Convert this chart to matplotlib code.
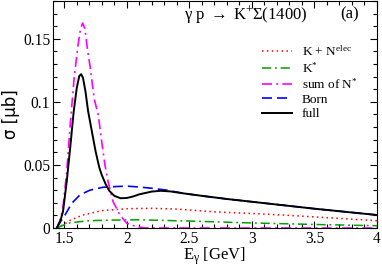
import matplotlib
matplotlib.use("Agg")
import matplotlib.pyplot as plt
from matplotlib.ticker import MultipleLocator

plt.rcParams['font.family'] = ['Liberation Serif', 'DejaVu Serif']
plt.rcParams['mathtext.fontset'] = 'custom'
plt.rcParams['mathtext.rm'] = 'Liberation Serif'
plt.rcParams['mathtext.it'] = 'Liberation Serif:italic'
plt.rcParams['mathtext.bf'] = 'Liberation Serif:bold'

# ---- data ----
E_full = [1.44, 1.47, 1.49, 1.52, 1.55, 1.575, 1.60, 1.62, 1.635, 1.65, 1.67, 1.69,
          1.72, 1.75, 1.78, 1.80, 1.83, 1.86, 1.90, 1.95, 2.00, 2.05, 2.10, 2.20,
          2.27, 2.35, 2.45, 2.60, 2.80, 3.00, 3.30, 3.50, 3.75, 4.00]
full = [0.0, 0.006, 0.013, 0.037, 0.066, 0.092, 0.111, 0.1205, 0.122, 0.119, 0.108, 0.093,
        0.077, 0.061, 0.048, 0.042, 0.035, 0.0295, 0.0255, 0.0236, 0.0238, 0.0250, 0.0267, 0.0289,
        0.0295, 0.0290, 0.0275, 0.0255, 0.0230, 0.0208, 0.0175, 0.0153, 0.0128, 0.0103]

E_nstar = [1.44, 1.47, 1.49, 1.52, 1.55, 1.58, 1.61, 1.63, 1.647, 1.665, 1.685, 1.705,
           1.74, 1.772, 1.80, 1.825, 1.852, 1.89, 1.945, 2.00, 2.08, 2.15, 4.00]
nstar = [0.0, 0.007, 0.017, 0.045, 0.085, 0.120, 0.145, 0.158, 0.1625, 0.158, 0.142, 0.129,
         0.102, 0.0897, 0.068, 0.050, 0.036, 0.021, 0.0103, 0.0037, 0.001, 0.0, 0.0]

E_born = [1.44, 1.47, 1.506, 1.56, 1.625, 1.705, 1.81, 1.90, 2.00, 2.10, 2.20, 2.32,
          2.40, 2.45, 2.60, 2.80, 3.00, 3.30, 3.50, 3.75, 4.00]
born = [0.0, 0.005, 0.0103, 0.0196, 0.0262, 0.0300, 0.0323, 0.0328, 0.0332, 0.0325, 0.0315, 0.0300,
        0.0285, 0.0275, 0.0255, 0.0230, 0.0208, 0.0175, 0.0153, 0.0128, 0.0103]

E_kn = [1.44, 1.50, 1.55, 1.65, 1.80, 2.00, 2.20, 2.40, 2.70, 3.00, 3.30, 3.60, 4.00]
kn = [0.0, 0.003, 0.0063, 0.0103, 0.0138, 0.0153, 0.0156, 0.0150, 0.0128, 0.0115, 0.0100, 0.0082, 0.0058]

E_kstar = [1.44, 1.50, 1.55, 1.70, 1.90, 2.10, 2.50, 3.00, 3.50, 4.00]
kstar = [0.0, 0.0025, 0.0042, 0.0058, 0.0063, 0.0065, 0.0055, 0.0040, 0.0028, 0.0018]

labels = ["K + N$^{\\mathrm{elec}}$", "K$^{*}$", "sum of N$^{*}$", "Born", "full"]

fig = plt.figure(figsize=(3.82, 2.67), dpi=100)
ax = fig.add_axes([53/382, 39/267, 324/382, 227/267])

ax.plot(E_kn, kn, color='red', lw=1.1, ls=(0, (1, 2.2)), label=labels[0])
ax.plot(E_kstar, kstar, color='#00a000', lw=1.1, ls=(0, (6, 2.5, 1.2, 2.5)), label=labels[1])
ax.plot(E_nstar, nstar, color='magenta', lw=1.2, ls=(0, (6, 2.5, 1.2, 2.5)), label=labels[2])
ax.plot(E_born, born, color='blue', lw=1.2, ls=(0, (6, 3)), label=labels[3])
ax.plot(E_full, full, color='black', lw=1.4, label=labels[4])

ax.set_xlim(1.41, 4.0)
ax.set_ylim(0, 0.18)
ax.xaxis.set_minor_locator(MultipleLocator(0.1))
ax.yaxis.set_minor_locator(MultipleLocator(0.01))
ax.set_xticks([1.5, 2, 2.5, 3, 3.5, 4])
ax.set_xticklabels(["1.5", "2", "2.5", "3", "3.5", "4"])
ax.set_yticks([0, 0.05, 0.1, 0.15])
ax.set_yticklabels(["0", "0.05", "0.1", "0.15"])
ax.tick_params(which='both', direction='in', top=True, right=True, labelsize=11.2, width=0.8)
ax.tick_params(which='major', length=5, pad=2)
ax.tick_params(which='minor', length=3)
for s in ax.spines.values():
    s.set_linewidth(0.8)

ax.set_xlabel("E$_{\\mathrm{\\gamma}}$ [GeV]", fontsize=12, labelpad=-1)
ax.set_ylabel("σ [μb]", fontsize=12, labelpad=2, family=['DejaVu Sans'])

ax.text(0.405, 0.94,
        "$\\mathrm{\\gamma}\\ \\mathrm{p}\\ {\\rightarrow}\\ \\mathrm{K}^{+}\\Sigma(1400)$",
        transform=ax.transAxes, fontsize=12, ha='left', va='center')
ax.text(0.886, 0.94, "(a)", transform=ax.transAxes, fontsize=12, ha='left', va='center')

leg = ax.legend(loc='upper left', bbox_to_anchor=(0.645, 0.81), frameon=False,
                fontsize=9.5, handlelength=2.3, handletextpad=0.7, labelspacing=0.15,
                borderpad=0, borderaxespad=0)

fig.savefig("out.png", dpi=100)
